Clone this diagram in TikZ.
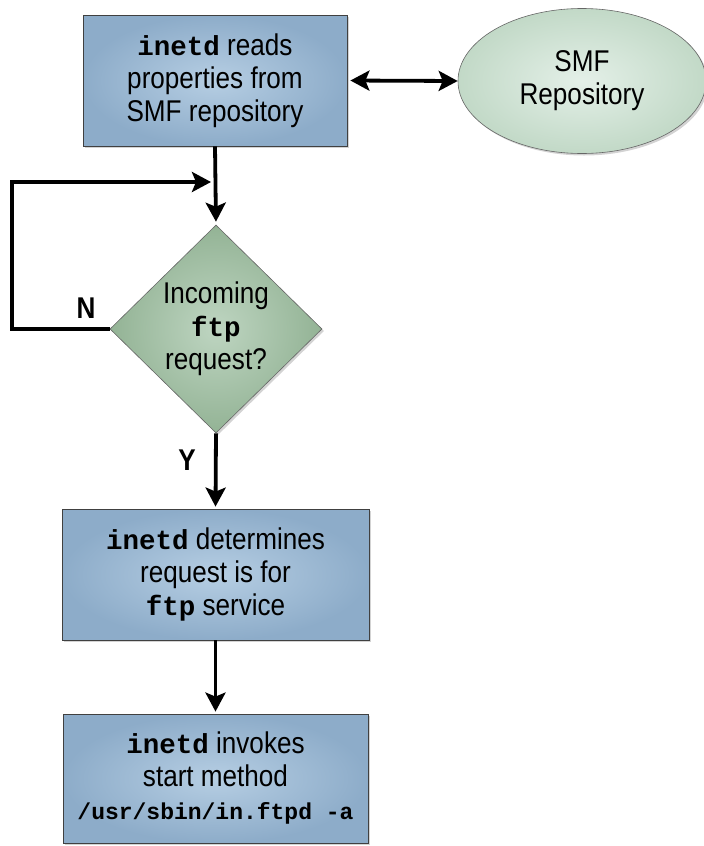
\documentclass[tikz,border=0pt]{standalone}
\usepackage{fontspec}
\setmainfont{Liberation Sans}[FakeStretch=0.87]
\setmonofont{Liberation Mono}
\usetikzlibrary{shapes.geometric,shadows,arrows.meta}
\definecolor{boxin}{RGB}{182,206,227}
\definecolor{boxout}{RGB}{141,172,201}
\definecolor{askin}{RGB}{190,213,193}
\definecolor{askout}{RGB}{147,179,149}
\definecolor{smfin}{RGB}{228,240,232}
\definecolor{smfout}{RGB}{194,217,199}
\newcommand{\prog}[1]{{\fontsize{27.5}{33}\selectfont\texttt{\bfseries #1}}}

\begin{document}
\begin{tikzpicture}[x=1pt,y=-1pt,
  every node/.style={font=\fontsize{30}{33}\selectfont,align=center,inner sep=0pt},
  shadowed/.style={drop shadow={opacity=0.35,shadow xshift=2pt,shadow yshift=-2pt}},
  stepbox/.style={rectangle,draw=black!75,line width=0.8pt,inner color=boxin,outer color=boxout,minimum height=131,shadowed},
  askbox/.style={diamond,draw=black!60,line width=0.6pt,inner color=askin,outer color=askout,minimum width=212,minimum height=208,shadowed},
  store/.style={ellipse,draw=black!60,line width=0.6pt,inner color=smfin,outer color=smfout,minimum width=248,minimum height=145,shadowed},
  conn/.style={line width=3.8pt,-{Stealth[length=19pt,width=20pt,inset=4pt]}},
  both/.style={line width=3.8pt,{Stealth[length=19pt,width=20pt,inset=4pt]}-{Stealth[length=19pt,width=20pt,inset=4pt]}},
  yn/.style={font=\fontsize{30}{33}\selectfont\bfseries}]
  \useasboundingbox (0,0) rectangle (704,846);

  \node[stepbox,minimum width=264] (reads) at (215,80.5) {\prog{inetd} reads\\ properties from\\ SMF repository};
  \node[store] (smf) at (582,81) {SMF\\ Repository};
  \node[askbox] (incoming) at (216,329) {Incoming\\ \prog{ftp}\\ request?};
  \node[stepbox,minimum width=307] (determine) at (215.5,574.5) {\prog{inetd} determines\\ request is for\\ \prog{ftp} service};
  \node[stepbox,minimum width=305,minimum height=129] (invoke) at (215.5,778.5) {\prog{inetd} invokes\\ start method\\ {\fontsize{23}{33}\selectfont\texttt{\bfseries /usr/sbin/in.ftpd -a}}};

  \draw[both,shorten <=3pt] (reads.east) -- (smf.west);
  \draw[conn,shorten >=3pt] (reads.south) -- (incoming.north);

  % loop back when no request
  \coordinate (back) at (12,182);
  \coordinate (join) at (211,182);
  \draw[conn] (incoming.west) -- (incoming.west -| back) -- (back) -- (join);
  \node[yn] (no) at (86,308) {N};

  \draw[conn,shorten >=2pt] (incoming.south) -- (determine.north);
  \node[yn] (yes) at (187,460) {Y};
  \draw[conn,shorten >=2pt] (determine.south) -- (invoke.north);
\end{tikzpicture}
\end{document}
